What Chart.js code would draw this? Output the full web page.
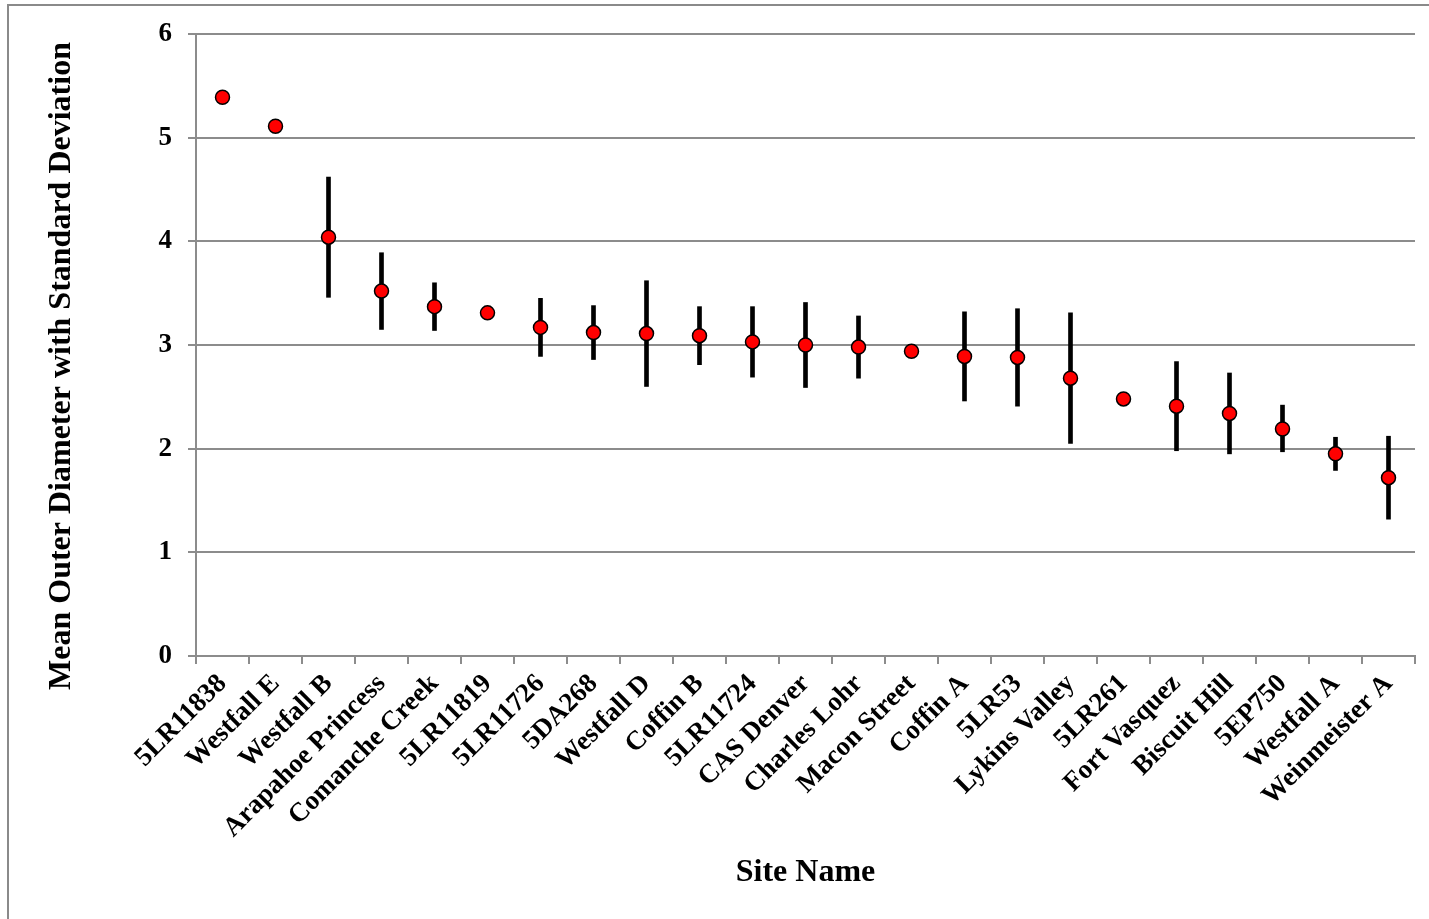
<!DOCTYPE html>
<html>
<head>
<meta charset="utf-8">
<script src="https://cdn.jsdelivr.net/npm/chart.js@4.4.1/dist/chart.umd.min.js"></script>
<style>
  html, body { margin: 0; padding: 0; background: #fff; overflow: hidden; }
  #wrap { position: relative; width: 1429px; height: 919px; }
  #frame { position: absolute; left: 7px; top: 4px; width: 1500px; height: 1000px;
           border-left: 2px solid #8a8a8a; border-top: 2px solid #8a8a8a; pointer-events: none; }
  canvas { display: block; }
</style>
</head>
<body>
<div id="wrap">
  <canvas id="c" width="1429" height="919"></canvas>
  <div id="frame"></div>
</div>
<script>
const categories = ["5LR11838", "Westfall E", "Westfall B", "Arapahoe Princess", "Comanche Creek",
  "5LR11819", "5LR11726", "5DA268", "Westfall D", "Coffin B", "5LR11724", "CAS Denver",
  "Charles Lohr", "Macon Street", "Coffin A", "5LR53", "Lykins Valley", "5LR261",
  "Fort Vasquez", "Biscuit Hill", "5EP750", "Westfall A", "Weinmeister A"];
const meanValues = [5.39, 5.11, 4.04, 3.52, 3.37, 3.31, 3.17, 3.12, 3.11, 3.09, 3.03, 3.00,
  2.98, 2.94, 2.89, 2.88, 2.68, 2.48, 2.41, 2.34, 2.19, 1.95, 1.72];
const sdLower = [null, null, 3.46, 3.15, 3.14, null, 2.89, 2.86, 2.60, 2.81, 2.69, 2.59,
  2.68, null, 2.46, 2.41, 2.05, null, 1.98, 1.95, 1.97, 1.79, 1.32];
const sdUpper = [null, null, 4.62, 3.89, 3.60, null, 3.45, 3.38, 3.62, 3.37, 3.37, 3.41,
  3.28, null, 3.32, 3.35, 3.31, null, 2.84, 2.73, 2.42, 2.11, 2.12];
const yTickValues = [0, 1, 2, 3, 4, 5, 6];
const yAxisTitle = 'Mean Outer Diameter with Standard Deviation';
const xAxisTitle = 'Site Name';

const errorBars = categories.map((c, i) =>
  sdLower[i] === null ? null : [sdLower[i], sdUpper[i]]);

const gridColor = '#8c8c8c';
const fontFamily = '"Liberation Serif", "Times New Roman", serif';

const yTitlePlugin = {
  id: 'yTitle',
  afterDraw(chart) {
    const ctx = chart.ctx;
    const area = chart.chartArea;
    ctx.save();
    ctx.translate(62, (area.top + area.bottom) / 2 + 21);
    ctx.rotate(-Math.PI / 2);
    ctx.font = 'bold 32px ' + fontFamily;
    ctx.fillStyle = '#000';
    ctx.textAlign = 'center';
    ctx.textBaseline = 'middle';
    ctx.fillText(yAxisTitle, 0, 0);
    ctx.restore();
  }
};

new Chart(document.getElementById('c'), {
  type: 'line',
  data: {
    labels: categories,
    datasets: [
      {
        type: 'line',
        label: 'Mean',
        data: meanValues,
        showLine: false,
        pointRadius: 7,
        pointHoverRadius: 7,
        pointBackgroundColor: '#ff0000',
        pointBorderColor: '#000000',
        pointBorderWidth: 1.5,
        order: 0
      },
      {
        type: 'bar',
        label: 'Standard Deviation',
        data: errorBars,
        backgroundColor: '#000000',
        barThickness: 4,
        borderWidth: 0,
        order: 1
      }
    ]
  },
  plugins: [yTitlePlugin],
  options: {
    responsive: false,
    animation: false,
    devicePixelRatio: 1,
    layout: { padding: { left: 0, right: 14, top: 34, bottom: 0 } },
    plugins: { legend: { display: false }, tooltip: { enabled: false } },
    scales: {
      x: {
        type: 'category',
        offset: true,
        grid: { offset: true, drawOnChartArea: false, drawTicks: true, tickLength: 8,
                color: gridColor, lineWidth: 2 },
        border: { display: true, color: gridColor, width: 2 },
        ticks: { minRotation: 45, maxRotation: 45, autoSkip: false, padding: 4,
                 color: '#000', font: { family: fontFamily, size: 27, weight: 'bold' } },
        title: { display: true, text: xAxisTitle, color: '#000',
                 font: { family: fontFamily, size: 32, weight: 'bold' },
                 padding: { top: 0, bottom: 27 } },
        afterFit: (scale) => { scale.height = 919 - 656; }
      },
      y: {
        min: 0, max: 6,
        afterBuildTicks: (scale) => { scale.ticks = yTickValues.map(v => ({ value: v })); },
        grid: { color: gridColor, lineWidth: 2, tickLength: 8, drawTicks: true },
        border: { display: true, color: gridColor, width: 2 },
        ticks: { padding: 16, color: '#000',
                 font: { family: fontFamily, size: 27, weight: 'bold' } },
        title: { display: false },
        afterFit: (scale) => { scale.width = 196; }
      }
    }
  }
});
</script>
</body>
</html>
